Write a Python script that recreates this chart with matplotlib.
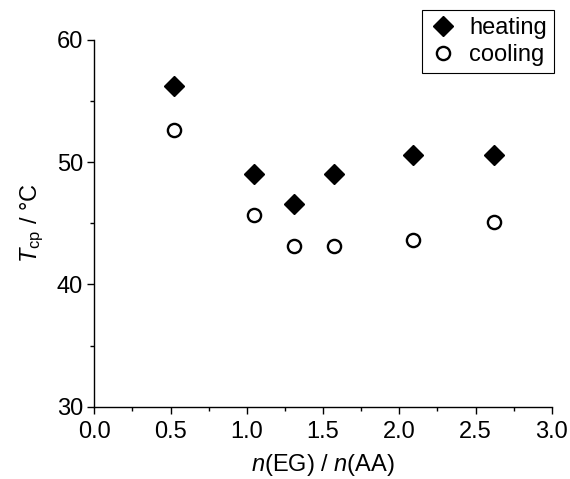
import matplotlib
matplotlib.use("Agg")
import matplotlib.pyplot as plt
from matplotlib.ticker import MultipleLocator

# ratio n(EG)/n(AA) and cloud point temperatures
ratio = [0.52, 1.05, 1.31, 1.57, 2.09, 2.62]
t_heating = [56.2, 49.0, 46.6, 49.05, 50.6, 50.6]
t_cooling = [52.65, 45.7, 43.15, 43.15, 43.65, 45.1]

plt.rcParams["font.family"] = ["Liberation Sans", "DejaVu Sans"]
plt.rcParams["mathtext.fontset"] = "custom"
plt.rcParams["mathtext.rm"] = "Liberation Sans"
plt.rcParams["mathtext.it"] = "Liberation Sans:italic"

fig = plt.figure(figsize=(5.70, 4.79), dpi=100)
ax = fig.add_axes([0.1655, 0.151, 0.8025, 0.7655])

ax.plot(ratio, t_heating, linestyle="none", marker="D", markersize=10,
        color="black", label="heating")
ax.plot(ratio, t_cooling, linestyle="none", marker="o", markersize=9.5,
        markerfacecolor="white", markeredgecolor="black", markeredgewidth=1.7,
        label="cooling")

ax.set_xlim(0, 3)
ax.set_ylim(30, 60)
ax.xaxis.set_major_locator(MultipleLocator(0.5))
ax.xaxis.set_minor_locator(MultipleLocator(0.25))
ax.yaxis.set_major_locator(MultipleLocator(10))
ax.yaxis.set_minor_locator(MultipleLocator(5))
ax.xaxis.set_major_formatter(matplotlib.ticker.FormatStrFormatter("%.1f"))

for side in ("top", "right"):
    ax.spines[side].set_visible(False)
for side in ("left", "bottom"):
    ax.spines[side].set_linewidth(1.0)

ax.tick_params(which="major", direction="out", length=5, width=1.0,
               labelsize=17, pad=3)
ax.tick_params(axis="x", which="major", pad=5)
ax.tick_params(which="minor", direction="out", length=3, width=1.0)

ax.set_xlabel(r"$\mathit{n}$(EG) / $\mathit{n}$(AA)", fontsize=17, labelpad=7)
ax.set_ylabel(r"$\mathit{T}_{\mathrm{cp}}$ / °C", fontsize=17, labelpad=8)

leg = ax.legend(loc="upper right", bbox_to_anchor=(554 / 570, 1 - 10 / 479),
                bbox_transform=fig.transFigure, borderaxespad=0,
                fontsize=17, frameon=True, fancybox=False, framealpha=1,
                handletextpad=0.5, handlelength=1.2, borderpad=0.3,
                labelspacing=0.2)
leg.get_frame().set_edgecolor("black")
leg.get_frame().set_linewidth(0.8)

fig.savefig("out.png", dpi=100)
plt.close(fig)
